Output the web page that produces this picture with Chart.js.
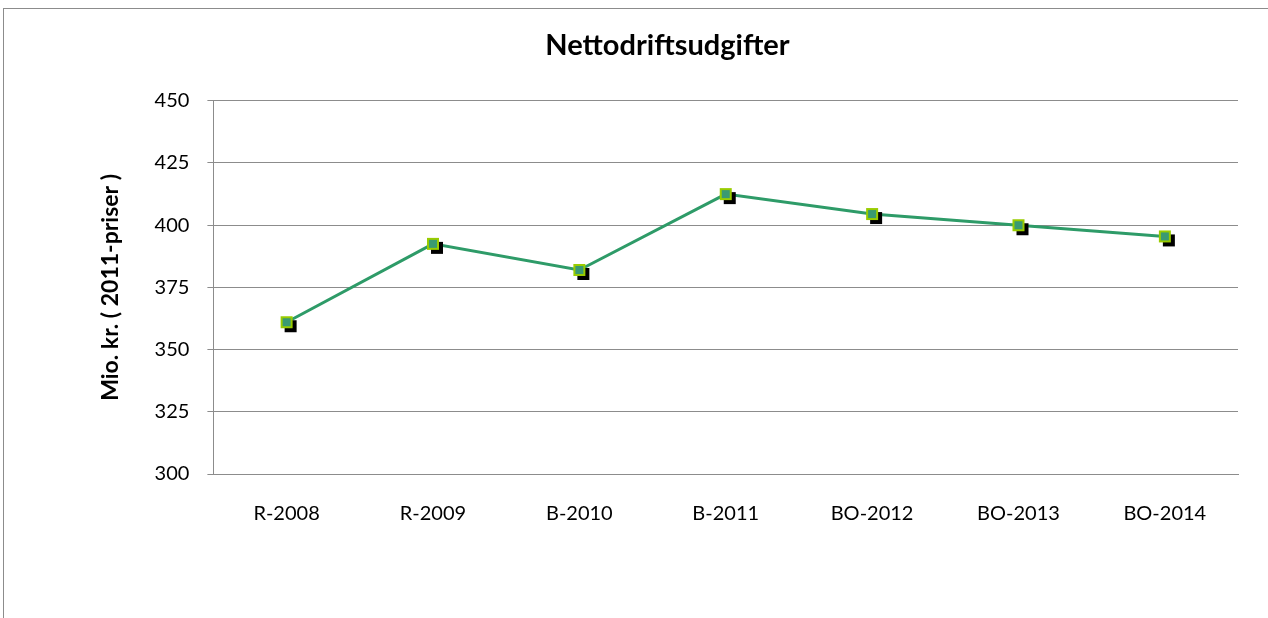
<!DOCTYPE html>
<html>
<head>
<meta charset="utf-8">
<script src="https://cdn.jsdelivr.net/npm/chart.js@4/dist/chart.umd.min.js"></script>
<style>
  html, body { margin: 0; padding: 0; background: #fff; }
  #wrap { position: relative; width: 1268px; height: 618px; overflow: hidden; }
  #frame { position: absolute; left: 3px; top: 8px; width: 1300px; height: 700px; border: 1px solid #8c8c8c; }
  #chart { position: absolute; left: 0; top: 0; }
</style>
</head>
<body>
<div id="wrap">
  <div id="frame"></div>
  <canvas id="chart" width="1268" height="618"></canvas>
</div>
<script>
var categories = ['R-2008', 'R-2009', 'B-2010', 'B-2011', 'BO-2012', 'BO-2013', 'BO-2014'];
var values = [361, 392.5, 382, 412.5, 404.5, 400, 395.5];
var yTicks = [300, 325, 350, 375, 400, 425, 450];

// square marker with a black drop shadow, like the Excel original
function makeMarker() {
    var c = document.createElement('canvas');
    c.width = 26;
    c.height = 26;
    var g = c.getContext('2d');
    g.fillStyle = '#000';
    g.fillRect(11, 11, 12, 12);
    g.fillStyle = '#99cc00';
    g.fillRect(7, 7, 12, 12);
    g.fillStyle = '#3a9a72';
    g.fillRect(9, 9, 8, 8);
    return c;
}

var font = "Lato, 'Open Sans', sans-serif";

new Chart(document.getElementById('chart'), {
    type: 'line',
    data: {
        labels: categories,
        datasets: [{
            data: values,
            borderColor: '#2e9b68',
            borderWidth: 3,
            pointStyle: makeMarker(),
            pointRadius: 6,
            pointHoverRadius: 6,
            tension: 0
        }]
    },
    options: {
        responsive: false,
        animation: false,
        layout: { padding: { left: 97, right: 30, top: 10, bottom: 72 } },
        plugins: {
            legend: { display: false },
            tooltip: { enabled: false },
            title: {
                display: true,
                text: 'Nettodriftsudgifter',
                color: '#000',
                font: { family: font, size: 29, weight: 'bold' },
                padding: { top: 18, bottom: 38 }
            }
        },
        scales: {
            x: {
                offset: true,
                grid: { display: false },
                border: { color: '#8c8c8c', width: 1 },
                ticks: { color: '#000', font: { family: font, size: 20 }, padding: 20, maxRotation: 0 }
            },
            y: {
                min: 300,
                max: 450,
                afterBuildTicks: function(axis) {
                    axis.ticks = yTicks.map(function(v) { return { value: v }; });
                },
                grid: { color: '#8c8c8c', tickLength: 6, lineWidth: 1 },
                border: { color: '#8c8c8c', width: 1 },
                ticks: { color: '#000', font: { family: font, size: 20 }, padding: 18 },
                title: {
                    display: true,
                    text: 'Mio. kr. ( 2011-priser )',
                    color: '#000',
                    font: { family: font, size: 23, weight: 'bold' },
                    padding: { top: 0, bottom: 12 }
                }
            }
        }
    }
});
</script>
</body>
</html>
